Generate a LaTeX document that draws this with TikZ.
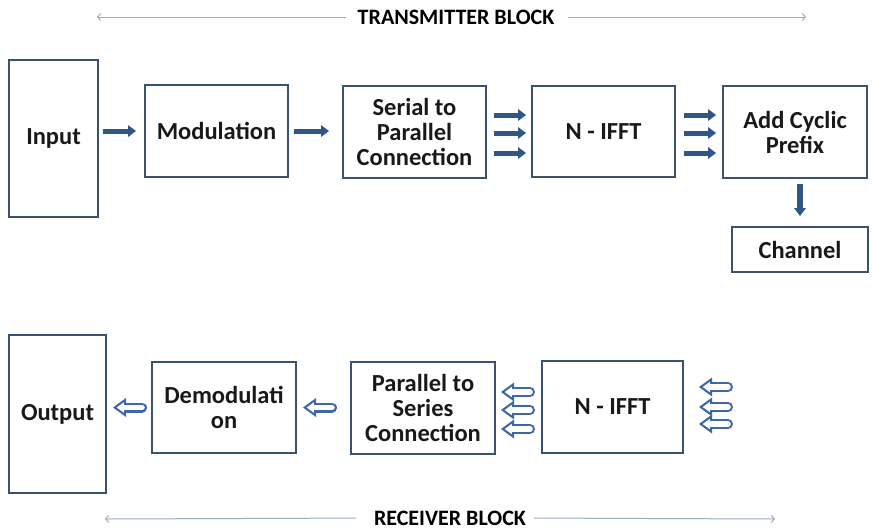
\documentclass[tikz,border=0pt]{standalone}
\usepackage{fontspec}
\setmainfont{Carlito}
\usetikzlibrary{arrows.meta}

\definecolor{boxline}{HTML}{3A5270}
\definecolor{arrowblue}{HTML}{2F5689}
\definecolor{hollowblue}{HTML}{3F66A8}
\definecolor{labelline}{HTML}{9AAAC4}

\begin{document}
\begin{tikzpicture}[x=1pt,y=-1pt,
  font=\fontsize{24.5}{25}\selectfont\bfseries,
  blk/.style={draw=boxline,line width=2pt,align=center,inner sep=0pt,text=black!90},
  farrow/.style={arrowblue,line width=5pt,-{Triangle[length=8pt,width=12pt,line width=0pt]}},
  harrow/.style={hollowblue,line width=10pt,line cap=round,-{Triangle[length=13pt,width=19pt,line width=0pt]},
    postaction={draw,white,line width=5.6pt,-{Triangle[length=7.1pt,width=10.3pt,line width=0pt,sep=3.7pt]}}},
  lblarrow/.style={labelline,line width=1pt,-{Straight Barb[length=3pt,width=7pt]}},
  lbl/.style={font=\fontsize{22}{24}\selectfont\bfseries,inner sep=0pt}]
  \useasboundingbox (0,0) rectangle (872,531);

  % --- transmitter block
  \node[lbl] (tx) at (456,17) {TRANSMITTER BLOCK};
  \coordinate (txl) at (97,17);
  \coordinate (txr) at (806,17);
  \draw[lblarrow,shorten <=12pt] (tx.west) -- (txl);
  \draw[lblarrow,shorten <=14pt] (tx.east) -- (txr);

  \node[blk,minimum width=89,minimum height=157] (input) at (53.5,138.5) {Input};
  \node[blk,minimum width=143,minimum height=92] (mod) at (216.5,131) {Modulation};
  \node[blk,minimum width=143,minimum height=92] (sp) at (414.5,132) {Serial to\\Parallel\\Connection};
  \node[blk,minimum width=143,minimum height=91] (ifft) at (603.5,131.5) {N - IFFT};
  \node[blk,minimum width=144,minimum height=92] (cp) at (795,132) {Add Cyclic\\Prefix};
  \node[blk,minimum width=136,minimum height=45] (chan) at (800,249.5) {Channel};

  \draw[farrow,shorten <=4pt,shorten >=8pt] (input.east |- mod.west) -- (mod.west);
  \draw[farrow,shorten <=5pt,shorten >=13pt] (mod.east) -- (sp.west |- mod.east);
  \foreach \dy in {17,-1,-21} {
    \draw[farrow,shorten <=7pt,shorten >=5pt] ([yshift=\dy]sp.east) -- ([yshift=\dy]sp.east -| ifft.west);
    \draw[farrow,shorten <=8pt,shorten >=6pt] ([yshift=\dy]sp.east -| ifft.east) -- ([yshift=\dy]sp.east -| cp.west);
  }
  \draw[farrow,line width=6pt,shorten <=5pt,shorten >=10pt] (cp.south -| chan.north) -- (chan.north);

  % --- receiver block
  \node[lbl] (rx) at (450,518) {RECEIVER BLOCK};
  \coordinate (rxl) at (105,519);
  \coordinate (rxr) at (775,519);
  \draw[lblarrow,shorten <=18pt] (rx.west) -- (rxl);
  \draw[lblarrow,shorten <=8pt] (rx.east) -- (rxr);

  \node[blk,minimum width=97,minimum height=158] (out) at (57.5,414) {Output};
  \node[blk,minimum width=144,minimum height=91] (demod) at (224,407.5) {Demodulati\\on};
  \node[blk,minimum width=144,minimum height=92] (ps) at (423,408) {Parallel to\\Series\\Connection};
  \node[blk,minimum width=141,minimum height=92] (rifft) at (612.5,407) {N - IFFT};
  \coordinate (rxin) at (728,407);

  \foreach \dy in {20,0,-17}
    \draw[harrow,shorten >=15pt] ([yshift=\dy]rxin) -- ([yshift=\dy]rxin -| rifft.east);
  \foreach \dy in {15,-3,-22}
    \draw[harrow,shorten <=11pt,shorten >=5pt] ([yshift=\dy]rifft.west) -- ([yshift=\dy]rifft.west -| ps.east);
  \draw[harrow,shorten <=18pt,shorten >=6pt] (ps.west |- demod.east) -- (demod.east);
  \draw[harrow,shorten <=9pt,shorten >=6pt] (demod.west) -- (demod.west -| out.east);
\end{tikzpicture}
\end{document}
